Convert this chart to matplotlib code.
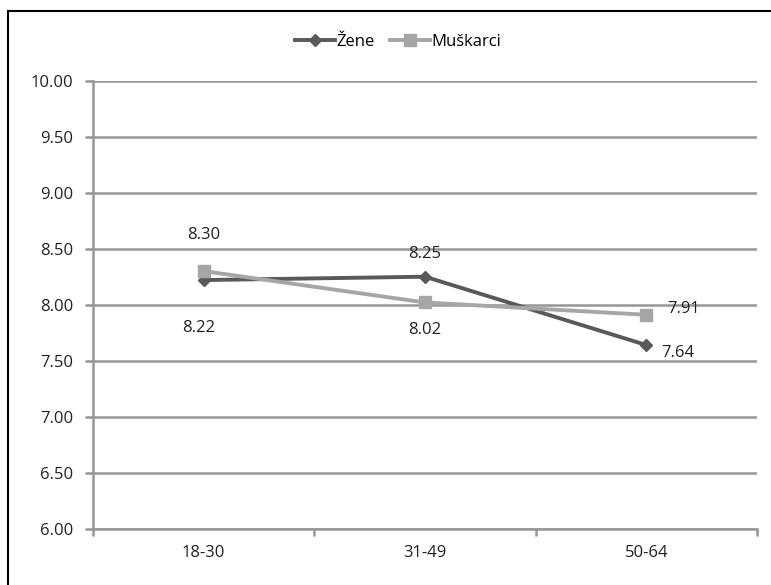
import matplotlib
matplotlib.use("Agg")
import matplotlib.pyplot as plt
from matplotlib.patches import Rectangle

# Age groups and average scores
groups = ["18-30", "31-49", "50-64"]
zene = [8.22, 8.25, 7.64]
muskarci = [8.30, 8.02, 7.91]

# label offsets in pixels (dx, dy) per point
zene_off = [(-5, -48), (0, 23), (31, -8)]
muskarci_off = [(0, 36), (0, -28), (37, 6)]

dark = "#595959"
light = "#a6a6a6"
grid = "#969696"

plt.rcParams["font.family"] = ["Open Sans", "DejaVu Sans"]
plt.rcParams["font.size"] = 12

fig = plt.figure(figsize=(7.71, 5.85), dpi=100)
ax = fig.add_axes([93 / 771, 1 - 528.7 / 585, (757 - 93) / 771, (528.7 - 80.7) / 585])

x = range(len(groups))
ax.plot(x, zene, color=dark, lw=2.8, marker="D", ms=6.5, label="Žene", zorder=3)
ax.plot(x, muskarci, color=light, lw=2.8, marker="s", ms=8, label="Muškarci", zorder=3)

for i, v in enumerate(zene):
    ax.annotate(f"{v:.2f}", (i, v), xytext=zene_off[i], textcoords="offset pixels",
                ha="center", va="center", color="#222222")
for i, v in enumerate(muskarci):
    ax.annotate(f"{v:.2f}", (i, v), xytext=muskarci_off[i], textcoords="offset pixels",
                ha="center", va="center", color="#222222")

ax.set_xlim(-0.5, 2.5)
ax.set_ylim(6, 10)
ax.set_yticks([6 + 0.5 * k for k in range(9)])
ax.set_yticklabels([f"{6 + 0.5 * k:.2f}" for k in range(9)])
ax.set_xticks([-0.5, 0.5, 1.5, 2.5])
ax.set_xticklabels([])
ax.set_xticks(list(x), minor=True)
ax.set_xticklabels(groups, minor=True)
ax.tick_params(axis="x", which="minor", length=0, pad=12, colors="#222222")
ax.tick_params(axis="x", which="major", length=5, width=1.8, color=grid)
ax.tick_params(axis="y", length=6, width=1.8, color=grid, pad=8, labelcolor="#222222")
ax.yaxis.grid(True, color=grid, lw=1.8)
ax.set_axisbelow(True)
for s in ["top", "right"]:
    ax.spines[s].set_visible(False)
for s in ["left", "bottom"]:
    ax.spines[s].set_color(grid)
    ax.spines[s].set_linewidth(1.8)

fig.legend(loc="center", bbox_to_anchor=(398 / 771, 1 - 42 / 585), ncol=2, frameon=False,
           handlelength=2.4, handletextpad=0.1, columnspacing=0.9, fontsize=12)

fig.patches.append(Rectangle((8 / 771, -0.1), 1.2, 1.1 - 11 / 585, transform=fig.transFigure,
                             fill=False, ec="black", lw=1.5, clip_on=False))

fig.savefig("out.png", dpi=100)
